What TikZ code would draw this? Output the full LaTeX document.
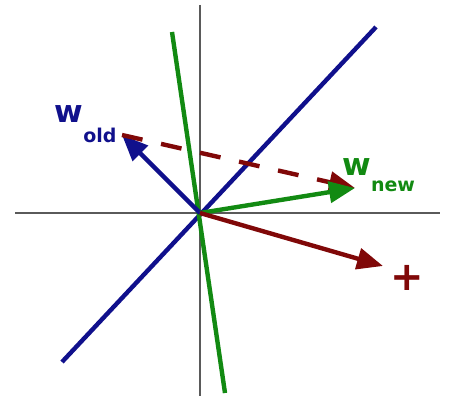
\documentclass[tikz,border=0pt]{standalone}
\usepackage{fontspec}
\setmainfont{DejaVu Sans}
\usetikzlibrary{arrows.meta}
\definecolor{wblue}{RGB}{16,16,140}
\definecolor{wgreen}{RGB}{18,138,18}
\definecolor{wred}{RGB}{128,8,8}
\definecolor{axisgray}{RGB}{90,90,90}
\begin{document}
\begin{tikzpicture}[x=1pt,y=-1pt,
  axis/.style={axisgray,line width=1.8pt},
  sep/.style={line width=4.4pt},
  vec/.style={line width=4.4pt,-{Triangle[length=26pt,width=21pt]}},
  lbl/.style={inner sep=0pt}]
\useasboundingbox (0,0) rectangle (454,401);
\coordinate (O) at (200,213);
\coordinate (xl) at (15,213);
\coordinate (xr) at (440,213);
\coordinate (yt) at (200,5);
\coordinate (yb) at (200,396);
\draw[axis] (xl) -- (xr);
\draw[axis] (yt) -- (yb);
\coordinate (b1) at (62,362);
\coordinate (b2) at (376,27);
\draw[sep,wblue] (b1) -- (b2);
\coordinate (g1) at (172,32);
\coordinate (g2) at (225,393);
\draw[sep,wgreen] (g1) -- (g2);
\coordinate (wold) at (122,135);
\coordinate (wnew) at (355,188);
\coordinate (plus) at (383,266);
\draw[vec,wblue] (O) -- (wold);
\draw[vec,wred,dash pattern=on 21pt off 19pt] (wold) -- (wnew);
\draw[vec,wgreen] (O) -- (wnew);
\draw[vec,wred] (O) -- (plus);
\node[lbl,wblue,font=\bfseries\fontsize{31}{31}\selectfont] (Wo) at (69,114) {w};
\node[lbl,wblue,font=\bfseries\fontsize{19}{19}\selectfont] (Wos) at (100,135) {old};
\node[lbl,wgreen,font=\bfseries\fontsize{31}{31}\selectfont] (Wn) at (357,167) {w};
\node[lbl,wgreen,font=\bfseries\fontsize{19}{19}\selectfont] (Wns) at (393,186) {new};
\node[lbl,wred,font=\bfseries\fontsize{40}{40}\selectfont] (pl) at (407,278) {+};
\end{tikzpicture}
\end{document}
